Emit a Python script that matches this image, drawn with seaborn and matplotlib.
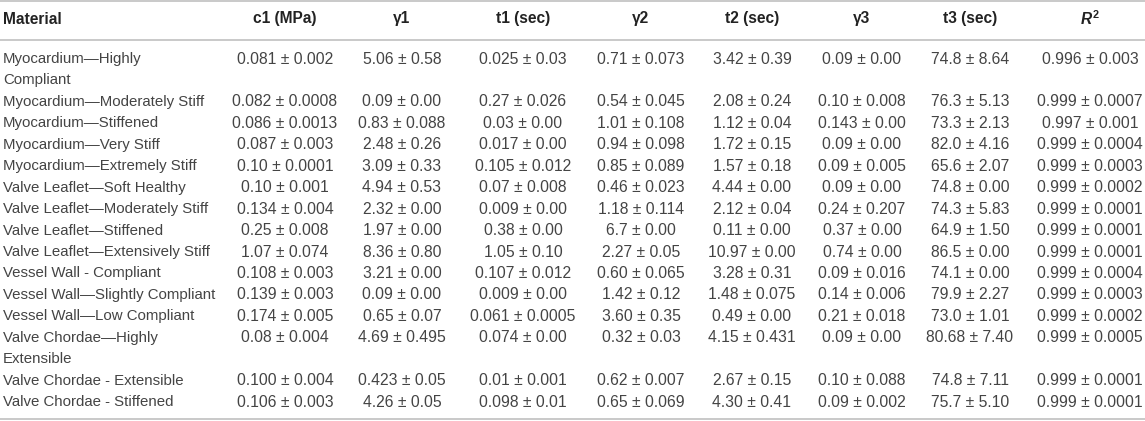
import matplotlib
matplotlib.use("Agg")
import matplotlib.pyplot as plt
import seaborn as sns

# table content
materials = [
    "Myocardium\u2014Highly\nCompliant",
    "Myocardium\u2014Moderately Stiff",
    "Myocardium\u2014Stiffened",
    "Myocardium\u2014Very Stiff",
    "Myocardium\u2014Extremely Stiff",
    "Valve Leaflet\u2014Soft Healthy",
    "Valve Leaflet\u2014Moderately Stiff",
    "Valve Leaflet\u2014Stiffened",
    "Valve Leaflet\u2014Extensively Stiff",
    "Vessel Wall - Compliant",
    "Vessel Wall\u2014Slightly Compliant",
    "Vessel Wall\u2014Low Compliant",
    "Valve Chordae\u2014Highly\nExtensible",
    "Valve Chordae - Extensible",
    "Valve Chordae - Stiffened",
]
headers = ["Material", "c1 (MPa)", "\u03b31", "t1 (sec)", "\u03b32", "t2 (sec)",
           "\u03b33", "t3 (sec)", "$R^2$"]

c1 = ["0.081 \u00b1 0.002", "0.082 \u00b1 0.0008", "0.086 \u00b1 0.0013", "0.087 \u00b1 0.003",
      "0.10 \u00b1 0.0001", "0.10 \u00b1 0.001", "0.134 \u00b1 0.004", "0.25 \u00b1 0.008",
      "1.07 \u00b1 0.074", "0.108 \u00b1 0.003", "0.139 \u00b1 0.003", "0.174 \u00b1 0.005",
      "0.08 \u00b1 0.004", "0.100 \u00b1 0.004", "0.106 \u00b1 0.003"]
g1 = ["5.06 \u00b1 0.58", "0.09 \u00b1 0.00", "0.83 \u00b1 0.088", "2.48 \u00b1 0.26",
      "3.09 \u00b1 0.33", "4.94 \u00b1 0.53", "2.32 \u00b1 0.00", "1.97 \u00b1 0.00",
      "8.36 \u00b1 0.80", "3.21 \u00b1 0.00", "0.09 \u00b1 0.00", "0.65 \u00b1 0.07",
      "4.69 \u00b1 0.495", "0.423 \u00b1 0.05", "4.26 \u00b1 0.05"]
t1 = ["0.025 \u00b1 0.03", "0.27 \u00b1 0.026", "0.03 \u00b1 0.00", "0.017 \u00b1 0.00",
      "0.105 \u00b1 0.012", "0.07 \u00b1 0.008", "0.009 \u00b1 0.00", "0.38 \u00b1 0.00",
      "1.05 \u00b1 0.10", "0.107 \u00b1 0.012", "0.009 \u00b1 0.00", "0.061 \u00b1 0.0005",
      "0.074 \u00b1 0.00", "0.01 \u00b1 0.001", "0.098 \u00b1 0.01"]
g2 = ["0.71 \u00b1 0.073", "0.54 \u00b1 0.045", "1.01 \u00b1 0.108", "0.94 \u00b1 0.098",
      "0.85 \u00b1 0.089", "0.46 \u00b1 0.023", "1.18 \u00b1 0.114", "6.7 \u00b1 0.00",
      "2.27 \u00b1 0.05", "0.60 \u00b1 0.065", "1.42 \u00b1 0.12", "3.60 \u00b1 0.35",
      "0.32 \u00b1 0.03", "0.62 \u00b1 0.007", "0.65 \u00b1 0.069"]
t2 = ["3.42 \u00b1 0.39", "2.08 \u00b1 0.24", "1.12 \u00b1 0.04", "1.72 \u00b1 0.15",
      "1.57 \u00b1 0.18", "4.44 \u00b1 0.00", "2.12 \u00b1 0.04", "0.11 \u00b1 0.00",
      "10.97 \u00b1 0.00", "3.28 \u00b1 0.31", "1.48 \u00b1 0.075", "0.49 \u00b1 0.00",
      "4.15 \u00b1 0.431", "2.67 \u00b1 0.15", "4.30 \u00b1 0.41"]
g3 = ["0.09 \u00b1 0.00", "0.10 \u00b1 0.008", "0.143 \u00b1 0.00", "0.09 \u00b1 0.00",
      "0.09 \u00b1 0.005", "0.09 \u00b1 0.00", "0.24 \u00b1 0.207", "0.37 \u00b1 0.00",
      "0.74 \u00b1 0.00", "0.09 \u00b1 0.016", "0.14 \u00b1 0.006", "0.21 \u00b1 0.018",
      "0.09 \u00b1 0.00", "0.10 \u00b1 0.088", "0.09 \u00b1 0.002"]
t3 = ["74.8 \u00b1 8.64", "76.3 \u00b1 5.13", "73.3 \u00b1 2.13", "82.0 \u00b1 4.16",
      "65.6 \u00b1 2.07", "74.8 \u00b1 0.00", "74.3 \u00b1 5.83", "64.9 \u00b1 1.50",
      "86.5 \u00b1 0.00", "74.1 \u00b1 0.00", "79.9 \u00b1 2.27", "73.0 \u00b1 1.01",
      "80.68 \u00b1 7.40", "74.8 \u00b1 7.11", "75.7 \u00b1 5.10"]
r2 = ["0.996 \u00b1 0.003", "0.999 \u00b1 0.0007", "0.997 \u00b1 0.001", "0.999 \u00b1 0.0004",
      "0.999 \u00b1 0.0003", "0.999 \u00b1 0.0002", "0.999 \u00b1 0.0001", "0.999 \u00b1 0.0001",
      "0.999 \u00b1 0.0001", "0.999 \u00b1 0.0004", "0.999 \u00b1 0.0003", "0.999 \u00b1 0.0002",
      "0.999 \u00b1 0.0005", "0.999 \u00b1 0.0001", "0.999 \u00b1 0.0001"]

value_cols = [c1, g1, t1, g2, t2, g3, t3, r2]

sns.set_theme(style="white")
plt.rcParams['font.family'] = ['Liberation Sans', 'DejaVu Sans']
plt.rcParams['mathtext.fontset'] = 'custom'
plt.rcParams['mathtext.it'] = 'Liberation Sans:italic:bold'
plt.rcParams['mathtext.rm'] = 'Liberation Sans:bold'

W, H = 1145, 421
fig = plt.figure(figsize=(W / 100, H / 100), dpi=100)
ax = fig.add_axes([0, 0, 1, 1])
ax.set_xlim(0, W)
ax.set_ylim(H, 0)
ax.axis("off")

col_x = [3, 285, 402, 523, 641, 752, 862, 970, 1090]
fs_head = 11.2
fs_name = 10.8
fs_val = 11.3
body_color = "#444444"
head_color = "#222222"
rule_color = "#c9c9c9"

# rules
for y in [0.8, 40, 419]:
    ax.axhline(y, color=rule_color, lw=1.4)

# header
for j, h in enumerate(headers):
    ax.text(col_x[j], 19, h, ha="left" if j == 0 else "center", va="center",
            fontsize=fs_head, fontweight="bold", color=head_color)

# body
y0, dy = 59, 21.45
line = 0
for i, name in enumerate(materials):
    parts = name.split("\n")
    for k, p in enumerate(parts):
        ax.text(col_x[0], y0 + dy * (line + k), p, ha="left", va="center",
                fontsize=fs_name, color=body_color)
    for j, col in enumerate(value_cols):
        ax.text(col_x[j + 1], y0 + dy * line, col[i], ha="center", va="center",
                fontsize=fs_val, color=body_color)
    line += len(parts)

fig.savefig("out.png", dpi=100)
